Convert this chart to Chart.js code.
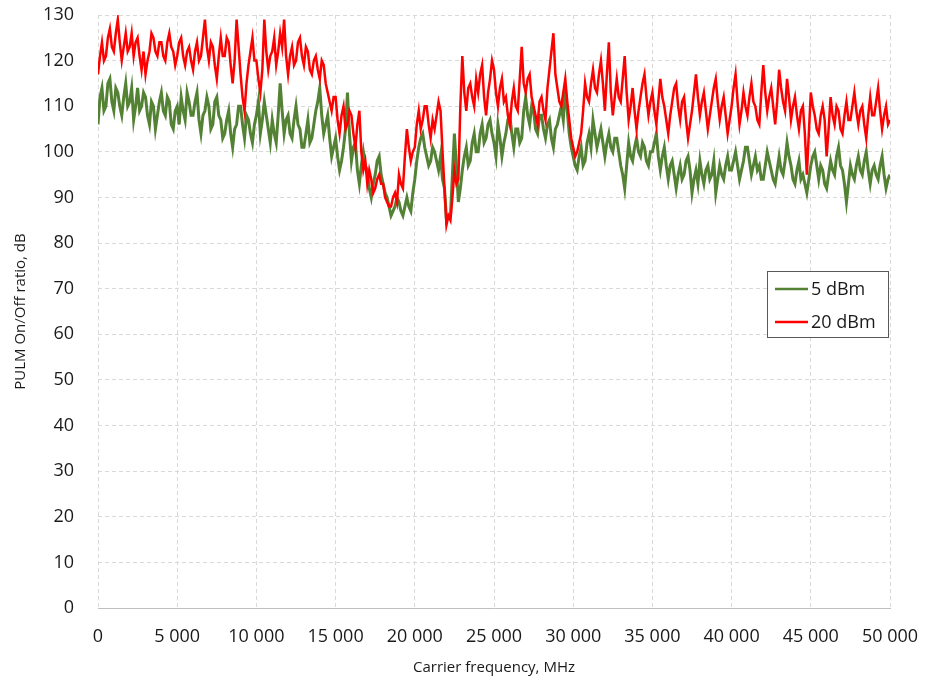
<!DOCTYPE html>
<html>
<head>
<meta charset="utf-8">
<script src="https://cdn.jsdelivr.net/npm/chart.js@4.4.0/dist/chart.umd.min.js"></script>
<style>
  html, body { margin: 0; padding: 0; background: #ffffff; }
  #wrap { width: 930px; height: 682px; }
</style>
</head>
<body>
<div id="wrap"><canvas id="c" width="930" height="682"></canvas></div>
<script>
// ---- data ----
const seriesNames = ['5 dBm', '20 dBm'];
const freqStartMHz = 0;
const freqStepMHz = 125;
const xTickValues = [0, 5000, 10000, 15000, 20000, 25000, 30000, 35000, 40000, 45000, 50000];
const xTickLabels = ['0', '5 000', '10 000', '15 000', '20 000', '25 000', '30 000', '35 000', '40 000', '45 000', '50 000'];
const yTickLabels = ['0','10','20','30','40','50','60','70','80','90','100','110','120','130'];

// one row per 1000 MHz (8 samples each)
const ratio5dBm = [
106,112,114,109,110,115,116,111,
109,114,113,110,108,112,115,110,
111,114,107,110,114,109,110,113,
112,108,106,111,110,105,108,111,
113,109,108,112,111,106,105,109,
110,106,112,109,107,113,111,108,
108,111,113,107,104,108,109,112,
110,105,106,111,112,108,107,103,
104,107,109,104,101,105,106,110,
110,106,103,108,107,104,102,106,
108,111,104,107,111,108,105,102,
107,104,102,108,115,109,104,107,
108,104,103,107,110,106,105,101,
101,104,107,102,103,106,109,111,
114,108,104,106,108,103,99,101,
103,99,96,98,101,105,113,104,
98,101,102,96,93,97,100,97,
96,92,90,93,95,98,99,95,
93,91,90,88,86,87,88,90,
89,87,86,88,90,88,87,91,
94,98,101,103,104,101,99,97,
98,101,100,98,96,99,94,92,
85,86,86,95,104,97,89,92,
96,99,101,97,98,102,104,100,
100,104,106,102,103,106,107,104,
102,99,106,103,99,102,104,107,
108,104,101,105,105,102,103,109,
112,108,106,110,109,105,104,108,
108,105,103,106,107,103,101,105,
106,108,110,107,114,109,104,101,
99,97,96,99,101,97,98,102,
104,101,107,104,101,103,105,102,
99,102,104,101,100,103,103,100,
97,95,92,97,102,99,98,101,
103,100,99,102,101,98,97,100,
100,102,104,99,96,99,101,97,
94,97,98,95,92,95,97,94,
95,98,99,96,91,94,96,93,
98,95,93,96,97,94,95,98,
91,94,97,95,94,97,99,96,
96,98,100,97,94,96,98,101,
101,98,95,97,99,96,97,94,
94,97,100,98,96,94,93,96,
99,96,95,98,102,99,97,94,
93,96,98,94,95,93,91,94,
97,99,100,97,94,97,96,93,
92,95,98,96,95,99,101,97,
96,93,89,93,97,95,94,97,
99,96,95,98,100,96,93,96,
97,95,94,97,99,95,92,94,
95
];

const ratio20dBm = [
117,121,124,120,121,125,127,123,
122,126,129,124,120,123,126,122,
123,126,121,124,125,121,118,122,
117,120,122,126,125,122,121,124,
124,121,120,124,126,123,122,119,
121,124,125,121,119,122,123,120,
118,122,124,120,121,125,129,123,
120,124,123,119,116,121,125,121,
121,125,124,119,115,120,129,123,
117,112,109,115,119,122,125,120,
120,116,113,118,129,122,118,121,
122,125,119,122,126,123,129,121,
117,121,123,119,120,124,125,121,
119,123,122,118,117,120,121,118,
116,120,119,115,113,111,109,112,
112,107,104,108,110,105,106,109,
108,104,101,106,109,100,96,98,
93,96,94,91,92,94,95,93,
93,90,89,88,88,90,91,89,
95,93,92,99,105,101,98,100,
101,106,109,105,107,110,110,106,
103,107,105,108,111,109,100,92,
84,86,85,90,96,93,94,110,
121,113,109,114,115,112,110,116,
113,117,119,112,108,113,116,120,
118,113,110,114,116,111,112,108,
106,111,114,110,109,116,123,115,
113,116,117,112,110,108,106,111,
112,109,107,114,118,122,126,117,
114,111,110,113,116,111,107,103,
101,99,100,102,104,109,115,112,
111,115,118,114,113,117,120,115,
109,117,124,113,108,112,116,112,
111,116,121,113,107,110,114,109,
105,109,112,115,117,112,108,111,
113,109,106,111,116,112,110,107,
104,108,111,114,115,110,107,111,
112,107,103,106,109,113,117,112,
108,111,113,109,105,108,111,114,
116,111,107,110,112,108,104,107,
110,114,117,111,106,109,113,110,
108,112,115,111,110,107,106,113,
119,113,109,112,114,110,106,111,
118,114,111,109,116,112,107,110,
112,108,105,109,110,104,95,104,
113,110,108,105,104,108,110,107,
99,105,112,108,106,110,109,105,
104,108,111,107,107,110,113,109,
106,109,110,106,103,108,112,108,
108,111,114,109,105,108,110,106,
107
];

const seriesColors = ['#548235', '#ff0000'];

function toPoints(vals) {
  return vals.map((v, i) => ({ x: freqStartMHz + i * freqStepMHz, y: v }));
}

const legendBoxPlugin = {
  id: 'legendBox',
  afterDraw(chart) {
    const ctx = chart.ctx;
    ctx.save();
    const bx = 767.5, by = 271.5, bw = 121, bh = 66;
    ctx.fillStyle = '#ffffff';
    ctx.fillRect(bx, by, bw, bh);
    ctx.strokeStyle = '#595959';
    ctx.lineWidth = 1;
    ctx.strokeRect(bx, by, bw, bh);
    ctx.font = '18px "Open Sans"';
    ctx.textBaseline = 'middle';
    ctx.textAlign = 'left';
    chart.data.datasets.forEach((ds, i) => {
      const y = by + 17.5 + i * 33;
      ctx.strokeStyle = ds.borderColor;
      ctx.lineWidth = 2.5;
      ctx.beginPath();
      ctx.moveTo(775, y);
      ctx.lineTo(808, y);
      ctx.stroke();
      ctx.fillStyle = '#1a1a1a';
      ctx.fillText(ds.label, 811, y + 1);
    });
    ctx.restore();
  }
};

const gridColor = '#d9d9d9';

new Chart(document.getElementById('c'), {
  type: 'line',
  data: {
    datasets: [
      { label: seriesNames[0], data: toPoints(ratio5dBm), borderColor: seriesColors[0], backgroundColor: seriesColors[0], borderWidth: 3, pointRadius: 0, tension: 0, order: 2 },
      { label: seriesNames[1], data: toPoints(ratio20dBm), borderColor: seriesColors[1], backgroundColor: seriesColors[1], borderWidth: 2.5, pointRadius: 0, tension: 0, order: 1 }
    ]
  },
  options: {
    responsive: false,
    animation: false,
    devicePixelRatio: 1,
    layout: { padding: { top: 15, right: 40, left: 0, bottom: 0 } },
    plugins: { legend: { display: false }, tooltip: { enabled: false } },
    scales: {
      x: {
        type: 'linear',
        min: 0, max: 50000,
        afterBuildTicks(scale) { scale.ticks = xTickValues.map(v => ({ value: v })); },
        afterFit(scale) { scale.height = 74; scale.paddingLeft = 0; scale.paddingRight = 0; },
        ticks: {
          padding: 18,
          color: '#1a1a1a',
          font: { family: 'Open Sans', size: 18 },
          maxRotation: 0,
          autoSkip: false,
          callback(value) { const i = xTickValues.indexOf(value); return i >= 0 ? xTickLabels[i] : ''; }
        },
        grid: { color: gridColor, lineWidth: 1, drawTicks: false },
        border: { display: true, color: '#bfbfbf', dash: [4, 3] },
        title: {
          display: true, text: 'Carrier frequency, MHz', color: '#1a1a1a',
          font: { family: 'Open Sans', size: 15 }, padding: { top: 0, bottom: 5 }
        }
      },
      y: {
        type: 'linear',
        min: 0, max: 130,
        afterBuildTicks(scale) { scale.ticks = yTickLabels.map(t => ({ value: Number(t) })); },
        afterFit(scale) { scale.width = 98; scale.paddingTop = 0; scale.paddingBottom = 0; },
        ticks: {
          padding: 24,
          color: '#1a1a1a',
          font: { family: 'Open Sans', size: 18 },
          autoSkip: false,
          callback(value) { const i = yTickLabels.indexOf(String(value)); return i >= 0 ? yTickLabels[i] : ''; }
        },
        grid: { color: gridColor, lineWidth: 1, drawTicks: false },
        border: { display: false, dash: [4, 3] },
        title: {
          display: true, text: 'PULM On/Off ratio, dB', color: '#1a1a1a',
          font: { family: 'Open Sans', size: 15 }, padding: { top: 12, bottom: 0 }
        }
      }
    }
  },
  plugins: [legendBoxPlugin]
});
</script>
</body>
</html>
